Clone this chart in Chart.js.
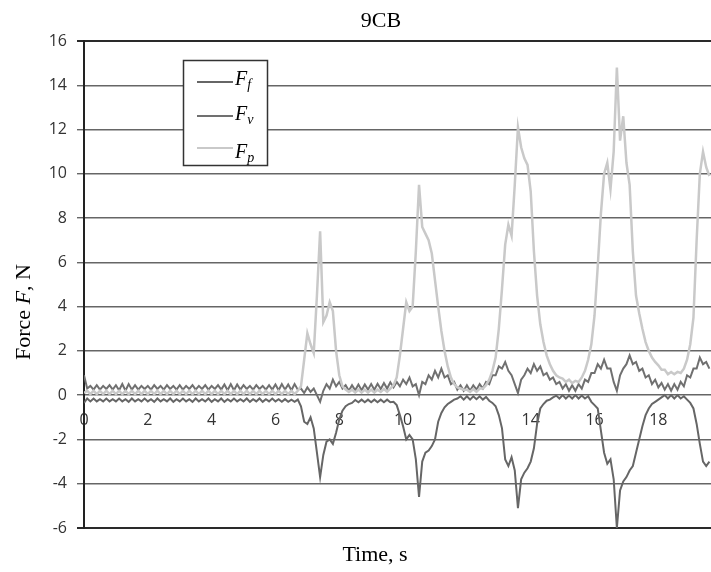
<!DOCTYPE html>
<html>
<head>
<meta charset="utf-8">
<script src="https://cdn.jsdelivr.net/npm/chart.js@4.4.1/dist/chart.umd.min.js"></script>
<style>
  html, body { margin: 0; padding: 0; background: #fff; }
  #wrap { position: relative; width: 711px; height: 572px; }
</style>
</head>
<body>
<div id="wrap"><canvas id="forceChart"></canvas></div>
<script>
// samples every 0.1 s, from 0 s to 19.6 s
const sampleStep = 0.1;

// friction force (the negative trace)
const forceFf = [
  -0.35, -0.15, -0.28, -0.15, -0.28, -0.18, -0.28, -0.15, -0.28, -0.18,
  -0.28, -0.15, -0.28, -0.18, -0.30, -0.15, -0.28, -0.18, -0.28, -0.15,
  -0.28, -0.18, -0.30, -0.15, -0.28, -0.18, -0.28, -0.15, -0.30, -0.18,
  -0.28, -0.15, -0.28, -0.18, -0.30, -0.15, -0.28, -0.18, -0.28, -0.15,
  -0.30, -0.18, -0.28, -0.15, -0.30, -0.18, -0.28, -0.15, -0.28, -0.18,
  -0.28, -0.15, -0.30, -0.18, -0.28, -0.15, -0.30, -0.18, -0.28, -0.15,
  -0.28, -0.18, -0.30, -0.18, -0.30, -0.20, -0.30, -0.20, -0.50, -1.20,
  -1.30, -1.00, -1.50, -2.60, -3.70, -2.70, -2.10, -2.00, -2.20, -1.70,
  -1.10, -0.70, -0.50, -0.40, -0.35, -0.22, -0.32, -0.20, -0.32, -0.20,
  -0.32, -0.20, -0.32, -0.20, -0.32, -0.20, -0.32, -0.30, -0.45, -0.90,
  -1.40, -2.00, -1.80, -2.00, -2.90, -4.60, -3.00, -2.60, -2.50, -2.30,
  -2.00, -1.20, -0.80, -0.55, -0.40, -0.30, -0.20, -0.15, -0.05, -0.20,
  -0.05, -0.20, -0.05, -0.18, -0.05, -0.20, -0.08, -0.25, -0.35, -0.50,
  -0.90, -1.50, -2.90, -3.20, -2.80, -3.40, -5.10, -3.80, -3.50, -3.30,
  -3.00, -2.40, -1.30, -0.60, -0.40, -0.25, -0.20, -0.10, -0.02, -0.15,
   0.00, -0.15, -0.02, -0.15,  0.00, -0.15, -0.02, -0.15, -0.05, -0.30,
  -0.45, -0.60, -1.60, -2.60, -3.10, -2.90, -3.80, -6.00, -4.30, -3.90,
  -3.70, -3.40, -3.20, -2.60, -2.00, -1.40, -0.90, -0.60, -0.40, -0.30,
  -0.20, -0.10,  0.00, -0.15,  0.00, -0.15,  0.00, -0.15, -0.05, -0.20,
  -0.35, -0.60, -1.30, -2.20, -3.00, -3.20, -3.00
];

// normal force (the small positive rippling trace)
const forceFv = [
  0.90, 0.30, 0.42, 0.25, 0.45, 0.25, 0.42, 0.28, 0.45, 0.25,
  0.45, 0.22, 0.50, 0.20, 0.50, 0.25, 0.45, 0.25, 0.42, 0.28,
  0.42, 0.25, 0.45, 0.28, 0.42, 0.25, 0.45, 0.28, 0.42, 0.25,
  0.45, 0.25, 0.42, 0.28, 0.45, 0.25, 0.42, 0.28, 0.45, 0.25,
  0.42, 0.28, 0.45, 0.25, 0.48, 0.22, 0.50, 0.22, 0.48, 0.25,
  0.45, 0.28, 0.42, 0.25, 0.45, 0.28, 0.42, 0.25, 0.45, 0.25,
  0.48, 0.22, 0.50, 0.25, 0.48, 0.22, 0.50, 0.25, 0.30, 0.10,
  0.35, 0.15, 0.30, 0.00, -0.30, 0.20, 0.50, 0.30, 0.70, 0.40,
  0.60, 0.30, 0.45, 0.20, 0.45, 0.22, 0.48, 0.22, 0.48, 0.25,
  0.50, 0.25, 0.52, 0.28, 0.55, 0.30, 0.58, 0.35, 0.60, 0.40,
  0.70, 0.50, 0.80, 0.40, 0.50, 0.00, 0.60, 0.50, 0.90, 0.70,
  1.10, 0.80, 1.20, 0.80, 0.90, 0.50, 0.60, 0.25, 0.45, 0.20,
  0.45, 0.20, 0.45, 0.25, 0.50, 0.30, 0.60, 0.50, 0.90, 0.90,
  1.30, 1.20, 1.50, 1.10, 0.90, 0.50, 0.10, 0.70, 0.90, 1.20,
  1.00, 1.40, 1.10, 1.30, 0.90, 1.00, 0.70, 0.80, 0.50, 0.60,
  0.30, 0.50, 0.20, 0.45, 0.20, 0.50, 0.30, 0.70, 0.60, 1.00,
  1.00, 1.40, 1.20, 1.60, 1.20, 1.20, 0.60, 0.20, 0.90, 1.20,
  1.40, 1.80, 1.40, 1.50, 1.10, 1.20, 0.80, 0.90, 0.50, 0.70,
  0.35, 0.55, 0.25, 0.50, 0.20, 0.50, 0.25, 0.60, 0.40, 0.90,
  0.80, 1.20, 1.20, 1.70, 1.40, 1.50, 1.20
];

// pressing force (the light trace with the big peaks)
const forceFp = [
  0.10, 0.20, 0.05, 0.20, 0.05, 0.20, 0.05, 0.20, 0.05, 0.20,
  0.05, 0.20, 0.05, 0.20, 0.05, 0.20, 0.05, 0.20, 0.05, 0.20,
  0.05, 0.20, 0.05, 0.20, 0.05, 0.20, 0.05, 0.20, 0.05, 0.20,
  0.05, 0.20, 0.05, 0.20, 0.05, 0.20, 0.05, 0.20, 0.05, 0.20,
  0.05, 0.20, 0.05, 0.20, 0.05, 0.20, 0.05, 0.20, 0.05, 0.20,
  0.05, 0.20, 0.05, 0.20, 0.05, 0.20, 0.05, 0.20, 0.05, 0.20,
  0.05, 0.20, 0.05, 0.20, 0.05, 0.20, 0.05, 0.20, 0.40, 1.60,
  2.80, 2.30, 1.90, 4.50, 7.40, 3.30, 3.60, 4.20, 3.80, 2.00,
  0.90, 0.40, 0.25, 0.15, 0.25, 0.12, 0.25, 0.12, 0.25, 0.12,
  0.25, 0.12, 0.25, 0.15, 0.28, 0.15, 0.30, 0.45, 0.80, 1.80,
  3.00, 4.20, 3.80, 4.00, 6.50, 9.50, 7.60, 7.30, 7.00, 6.40,
  5.20, 4.00, 2.90, 2.00, 1.30, 0.80, 0.50, 0.35, 0.30, 0.25,
  0.25, 0.15, 0.28, 0.15, 0.30, 0.30, 0.45, 0.70, 1.10, 1.70,
  3.00, 4.80, 6.80, 7.70, 7.20, 9.50, 12.10, 11.20, 10.70, 10.40,
  9.20, 6.50, 4.50, 3.20, 2.40, 1.80, 1.40, 1.10, 0.90, 0.80,
  0.75, 0.60, 0.70, 0.55, 0.65, 0.60, 0.80, 1.10, 1.60, 2.30,
  3.60, 5.80, 8.20, 10.00, 10.50, 9.30, 11.00, 14.80, 11.50, 12.60,
  10.50, 9.50, 6.50, 4.50, 3.70, 3.00, 2.40, 2.00, 1.70, 1.50,
  1.35, 1.15, 1.15, 0.95, 1.05, 0.95, 1.05, 1.00, 1.20, 1.60,
  2.30, 3.50, 7.00, 10.00, 11.00, 10.30, 9.90
];

const xTickValues = [0, 2, 4, 6, 8, 10, 12, 14, 16, 18];
const yTickValues = [-6, -4, -2, 0, 2, 4, 6, 8, 10, 12, 14, 16];
const seriesNames = ["f", "v", "p"];
const seriesColors = ["#666666", "#707070", "#c9c9c9"];

function toPoints(values) {
    return values.map((v, i) => ({ x: +(i * sampleStep).toFixed(1), y: v }));
}

const serif = "'Liberation Serif', 'Times New Roman', serif";

// titles and the boxed legend with italic F and subscripts
const annotations = {
    id: "annotations",
    afterDraw(chart) {
        const ctx = chart.ctx;
        ctx.save();
        ctx.fillStyle = "#000";
        ctx.textBaseline = "middle";

        ctx.font = "22px " + serif;
        ctx.textAlign = "center";
        ctx.fillText("9CB", 381, 21);
        ctx.fillText("Time, s", 375, 555);

        // y title, rotated
        ctx.save();
        ctx.translate(24, 312);
        ctx.rotate(-Math.PI / 2);
        ctx.textAlign = "left";
        const parts = [["Force ", "22px "], ["F", "italic 22px "], [", N", "22px "]];
        let total = 0;
        parts.forEach(p => { ctx.font = p[1] + serif; total += ctx.measureText(p[0]).width; });
        let px = -total / 2;
        parts.forEach(p => {
            ctx.font = p[1] + serif;
            ctx.fillText(p[0], px, 0);
            px += ctx.measureText(p[0]).width;
        });
        ctx.restore();

        // legend box
        ctx.fillStyle = "#fff";
        ctx.fillRect(183, 60, 84, 105);
        ctx.strokeStyle = "#333";
        ctx.lineWidth = 1.5;
        ctx.strokeRect(183.5, 60.5, 84, 105);

        const rowY = [82, 116, 148];
        const textY = [85, 120, 158];
        ctx.textBaseline = "alphabetic";
        ctx.textAlign = "left";
        seriesNames.forEach((name, i) => {
            ctx.strokeStyle = seriesColors[i];
            ctx.lineWidth = 2;
            ctx.beginPath();
            ctx.moveTo(197, rowY[i]);
            ctx.lineTo(233, rowY[i]);
            ctx.stroke();
            ctx.fillStyle = "#000";
            ctx.font = "italic 20px " + serif;
            ctx.fillText("F", 235, textY[i]);
            const w = ctx.measureText("F").width;
            ctx.font = "italic 14px " + serif;
            ctx.fillText(name, 235 + w, textY[i] + 4);
        });
        ctx.restore();
    }
};

const ctx = document.getElementById("forceChart").getContext("2d");

new Chart(ctx, {
    type: "line",
    data: {
        datasets: [
            { label: "Fp", data: toPoints(forceFp), borderColor: seriesColors[2], borderWidth: 2.5 },
            { label: "Fv", data: toPoints(forceFv), borderColor: seriesColors[1], borderWidth: 2 },
            { label: "Ff", data: toPoints(forceFf), borderColor: seriesColors[0], borderWidth: 2 }
        ]
    },
    options: {
        responsive: true,
        maintainAspectRatio: false,
        animation: false,
        elements: { point: { radius: 0 }, line: { tension: 0 } },
        layout: { padding: { top: 41, bottom: 44, left: 0, right: 0 } },
        plugins: {
            legend: { display: false },
            title: { display: false },
            tooltip: { enabled: false }
        },
        scales: {
            x: {
                type: "linear",
                position: { y: 0 },
                min: 0,
                max: 19.65,
                afterBuildTicks: s => { s.ticks = xTickValues.map(v => ({ value: v })); },
                afterFit: s => { s.height = 0; },
                grid: { display: false, drawTicks: false },
                border: { display: false },
                ticks: {
                    padding: 16,
                    color: "#333",
                    font: { family: "'Open Sans'", size: 16 },
                    maxRotation: 0,
                    autoSkip: false
                }
            },
            y: {
                min: -6,
                max: 16,
                afterBuildTicks: s => { s.ticks = yTickValues.map(v => ({ value: v })); },
                afterFit: s => { s.width = 84; },
                grid: {
                    color: c => (c.tick && (c.tick.value === 16 || c.tick.value === -6)) ? "#2a2a2a" : "#666",
                    lineWidth: c => (c.tick && (c.tick.value === 16 || c.tick.value === -6)) ? 2 : 1.4,
                    tickLength: 7
                },
                border: { display: true, color: "#222", width: 2 },
                ticks: {
                    padding: 10,
                    color: "#333",
                    font: { family: "'Open Sans'", size: 16 }
                }
            }
        }
    },
    plugins: [annotations]
});
</script>
</body>
</html>
